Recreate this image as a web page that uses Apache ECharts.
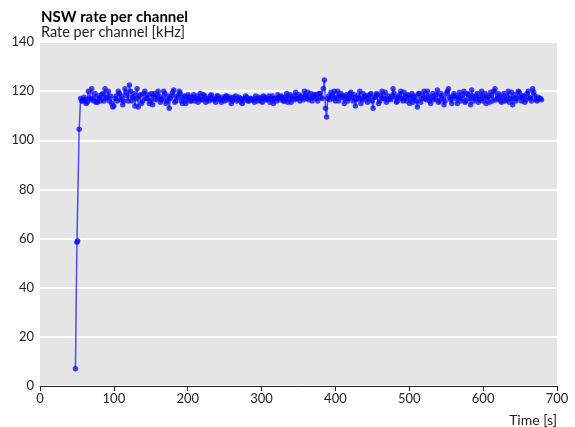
<!DOCTYPE html>
<html><head><meta charset="utf-8">
<script src="https://cdn.jsdelivr.net/npm/echarts@6/dist/echarts.min.js"></script>
<style>html,body{margin:0;padding:0;background:#fff}#c{width:575px;height:427px}</style>
</head><body><div id="c"></div>
<script>
const titleText = "NSW rate per channel";
const subtitleText = "Rate per channel [kHz]";
const xAxisName = "Time [s]";
const startTimes = [48, 50, 51, 53];
const startValues = [7, 58.5, 59, 104.5];
const bandTimes = [
55,58,61,64,67,70,73,76,79,82,
85,88,91,94,97,100,103,106,109,112,
115,118,121,124,127,130,133,136,139,142,
145,148,151,154,157,160,163,166,169,172,
175,178,181,184,187,190,193,196,199,202,
205,208,211,214,217,220,223,226,229,232,
235,238,241,244,247,250,253,256,259,262,
265,268,271,274,277,280,283,286,289,292,
295,298,301,304,307,310,313,316,319,322,
325,328,331,334,337,340,343,346,349,352,
355,358,361,364,367,370,373,376,379,382,
385,388,391,394,397,400,403,406,409,412,
415,418,421,424,427,430,433,436,439,442,
445,448,451,454,457,460,463,466,469,472,
475,478,481,484,487,490,493,496,499,502,
505,508,511,514,517,520,523,526,529,532,
535,538,541,544,547,550,553,556,559,562,
565,568,571,574,577,580,583,586,589,592,
595,598,601,604,607,610,613,616,619,622,
625,628,631,634,637,640,643,646,649,652,
655,658,661,664,667,670,673,676,679];
const bandValues = [
117,116,116.5,115.5,117,121,116,115.5,118,116,
119,121,117.5,116,115,114,118,120,116.5,114.5,
121,118,122.5,116,119,117,113.5,118.5,116,120,
117,115,119,118,116.5,120,115.5,117,119,116,
113,118,120.5,116,117.5,119,115,118,116.5,117.5,
116,118.5,117,115.5,119,116.5,118,117,116,118.5,
117,115.5,118,116.5,117.5,116,118,117,115,117.5,
118,116.5,117,115,116.5,117.5,116,117,116.5,118,
116,117,115.5,117.5,116.5,118,117,115,117,118.5,
116.5,117.5,116,119,117,115.5,118,119.5,117,116,
118,120,117,116.5,119,117.5,118.5,116,119,117,
124.5,109.5,118,119.5,117,116,120,118,117.5,115,
118.5,117,119.5,116,114,118,120,117,116.5,118,
117,119,113,117.5,118.5,116,120,117,115.5,118,
116.5,121,117.5,116,118.5,117,119.5,116,118,117,
115.5,118,113.5,119,117,120,116.5,118,115,119,
117,120.5,116,118,114.5,119,121,116.5,118,117,
115,119.5,117,120,116,118.5,114.5,118,117,119,
116.5,120,117.5,115,118,119.5,116,121,117,118,
115.5,119,116.5,120,117,114.5,118.5,117,119.5,116,
118,116.5,120,117,121,118,116,117,116.5];
const band2Times = [
56.5,59.5,62.5,65.5,68.5,71.5,74.5,77.5,80.5,83.5,
86.5,89.5,92.5,95.5,98.5,101.5,104.5,107.5,110.5,113.5,
116.5,119.5,122.5,125.5,128.5,131.5,134.5,137.5,140.5,143.5,
146.5,149.5,152.5,155.5,158.5,161.5,164.5,167.5,170.5,173.5,
176.5,179.5,182.5,185.5,188.5,191.5,194.5,197.5,200.5,203.5,
206.5,209.5,212.5,215.5,218.5,221.5,224.5,227.5,230.5,233.5,
236.5,239.5,242.5,245.5,248.5,251.5,254.5,257.5,260.5,263.5,
266.5,269.5,272.5,275.5,278.5,281.5,284.5,287.5,290.5,293.5,
296.5,299.5,302.5,305.5,308.5,311.5,314.5,317.5,320.5,323.5,
326.5,329.5,332.5,335.5,338.5,341.5,344.5,347.5,350.5,353.5,
356.5,359.5,362.5,365.5,368.5,371.5,374.5,377.5,380.5,383.5,
386.5,389.5,392.5,395.5,398.5,401.5,404.5,407.5,410.5,413.5,
416.5,419.5,422.5,425.5,428.5,431.5,434.5,437.5,440.5,443.5,
446.5,449.5,452.5,455.5,458.5,461.5,464.5,467.5,470.5,473.5,
476.5,479.5,482.5,485.5,488.5,491.5,494.5,497.5,500.5,503.5,
506.5,509.5,512.5,515.5,518.5,521.5,524.5,527.5,530.5,533.5,
536.5,539.5,542.5,545.5,548.5,551.5,554.5,557.5,560.5,563.5,
566.5,569.5,572.5,575.5,578.5,581.5,584.5,587.5,590.5,593.5,
596.5,599.5,602.5,605.5,608.5,611.5,614.5,617.5,620.5,623.5,
626.5,629.5,632.5,635.5,638.5,641.5,644.5,647.5,650.5,653.5,
656.5,659.5,662.5,665.5,668.5,671.5,674.5,677.5];
const band2Values = [
116,117.5,115,120,116.5,117,119,115.5,117,118.5,
116,117,120,118,113.5,117,116,119,118,116,
119.5,116,120,117.5,114,121,118,115,119,117,
118.5,116,114.5,119,117,118,116.5,120,115,118,
117,119.5,115.5,118,120,116,117.5,115,118.5,116,
117.5,116,118,117,116.5,118.5,115.5,117,118,116.5,
116.5,118,117,115.5,117,118,116.5,117.5,116,117,
116,117.5,115.5,117,118,116,117,116.5,115.5,117,
117.5,116,118,116.5,117,115.5,118,117,116,117.5,
118,116,117.5,115.5,118.5,117,116.5,117,118.5,117.5,
116.5,118,119.5,117.5,116,118.5,117,119,117.5,121,
113,117,116.5,118,120,117.5,116,119,118,117,
116,119,117.5,118.5,116.5,117,115,119,118,115.5,
118.5,116,117.5,119,115,118,117,119.5,116.5,117,
118,119,115.5,117.5,120,116,117.5,118.5,115,119,
117.5,116,119,115.5,118,117,120,116,117.5,116.5,
118.5,115.5,119,117,116,120,117.5,115,119,118,
117.5,116,118.5,115.5,119,117,120.5,116,118,115.5,
118,116,119,117.5,115.5,118,120,116.5,119,116,
117.5,116,118,115.5,119.5,117,116,120,117.5,118,
115.5,119,117.5,116,119.5,116.5,117.5,117];
const yTicks = [0,20,40,60,80,100,120,140];
const xTicks = [0,100,200,300,400,500,600,700];

const bandPoints = bandTimes.map((t,i)=>[t, bandValues[i]])
  .concat(band2Times.map((t,i)=>[t, band2Values[i]]))
  .sort((a,b)=>a[0]-b[0]);
const points = startTimes.map((t,i)=>[t, startValues[i]]).concat(bandPoints);

const chart = echarts.init(document.getElementById('c'), null, {renderer:'canvas'});
const font = "Lato,'Noto Sans',sans-serif";
chart.setOption({
  animation:false,
  title:{
    text:titleText, subtext:subtitleText, left:36, top:5, itemGap:0,
    textStyle:{fontFamily:font, fontSize:15, fontWeight:'bold', color:'#000'},
    subtextStyle:{fontFamily:font, fontSize:14.5, color:'#222'}
  },
  grid:{left:40, right:18, top:42, bottom:41, show:true, backgroundColor:'#e5e5e5', borderWidth:0},
  xAxis:{
    type:'value', min:xTicks[0], max:xTicks[xTicks.length-1], interval:100,
    name:xAxisName, nameLocation:'end', nameGap:0,
    nameTextStyle:{fontFamily:font, fontSize:14, color:'#222', align:'right', verticalAlign:'top', padding:[27,0,0,0]},
    axisLine:{show:true, lineStyle:{color:'#222', width:1}},
    axisTick:{show:true, length:5, lineStyle:{color:'#222'}},
    axisLabel:{fontFamily:font, fontSize:13, color:'#222', margin:6},
    splitLine:{show:false}
  },
  yAxis:{
    type:'value', min:yTicks[0], max:yTicks[yTicks.length-1], interval:20,
    axisLine:{show:false}, axisTick:{show:false},
    axisLabel:{fontFamily:font, fontSize:13, color:'#222', margin:6},
    splitLine:{show:true, lineStyle:{color:'#ffffff', width:2}}
  },
  series:[{
    type:'line', data:points, showSymbol:true, symbol:'circle', symbolSize:5.5,
    lineStyle:{color:'rgba(10,10,255,0.7)', width:1.5},
    itemStyle:{color:'rgba(10,10,255,0.75)', borderWidth:0}
  }]
});
</script></body></html>
